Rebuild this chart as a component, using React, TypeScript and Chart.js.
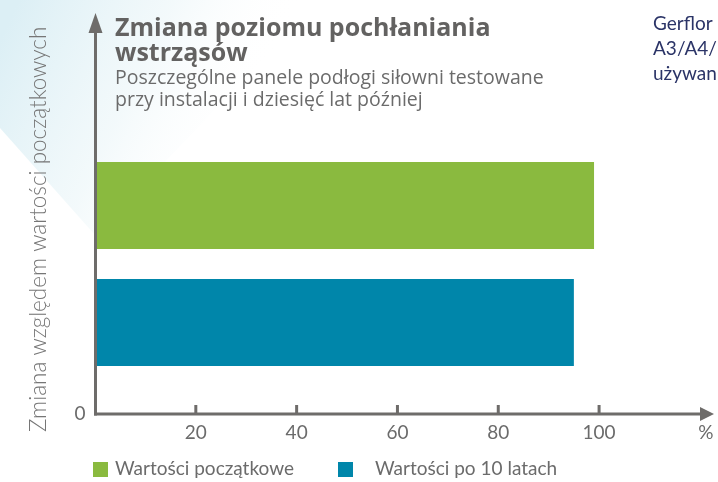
import React, { useEffect, useRef } from 'react';
import { Chart, registerables } from 'chart.js';

Chart.register(...registerables);

// ---- data ----
const categories = ['Wartości początkowe', 'Wartości po 10 latach'];
const initialValues: (number | null)[] = [99, null];
const after10Values: (number | null)[] = [null, 95];
const xTickValues = [20, 40, 60, 80, 100];
const unitLabel = '%';
const originLabel = '0';
const titleLines = ['Zmiana poziomu pochłaniania', 'wstrząsów'];
const subtitleLines = ['Poszczególne panele podłogi siłowni testowane', 'przy instalacji i dziesięć lat później'];
const yAxisTitle = 'Zmiana względem wartości początkowych';
const sideNoteLines = ['Gerflor', 'A3/A4/', 'używan'];

// ---- styles ----
const GREEN = '#8aba3f';
const BLUE = '#0086aa';
const AXIS = '#6e6c6a';
const TEXT = '#6b6b6b';
const TITLE = '#636261';
const NAVY = '#2b3467';
const FONT = 'Lato, "Open Sans", sans-serif';
const FONT2 = '"Open Sans", Lato, sans-serif';
const X_MAX = 122.6;
const UNIT_POS = 121.2;
const AXIS_GAP = 33;

const decorPlugin = {
  id: 'decor',
  beforeDraw(chart: any) {
    const { ctx, width, height } = chart;
    ctx.save();
    ctx.fillStyle = '#ffffff';
    ctx.fillRect(0, 0, width, height);
    const g = ctx.createLinearGradient(0, 40, 230, 150);
    g.addColorStop(0, 'rgba(220,239,245,1)');
    g.addColorStop(0.55, 'rgba(240,248,250,0.8)');
    g.addColorStop(1, 'rgba(255,255,255,0)');
    ctx.fillStyle = g;
    ctx.beginPath();
    ctx.moveTo(0, 0);
    ctx.lineTo(320, 0);
    ctx.lineTo(95, 235);
    ctx.lineTo(0, 128);
    ctx.closePath();
    ctx.fill();
    ctx.restore();
  },
  afterDatasetsDraw(chart: any) {
    const { ctx, chartArea } = chart;
    const xs = chart.scales.x;
    const x0 = xs.getPixelForValue(0) + 0.5;
    const axisY = chartArea.bottom + AXIS_GAP;
    const right = chartArea.right;
    ctx.save();
    // axes
    ctx.strokeStyle = AXIS;
    ctx.fillStyle = AXIS;
    ctx.lineWidth = 3;
    ctx.beginPath();
    ctx.moveTo(x0, axisY + 1.5);
    ctx.lineTo(x0, 28);
    ctx.stroke();
    ctx.beginPath();
    ctx.moveTo(x0 - 1.5, axisY);
    ctx.lineTo(right - 10, axisY);
    ctx.stroke();
    // arrows
    ctx.beginPath();
    ctx.moveTo(x0, 13);
    ctx.lineTo(x0 - 7, 33);
    ctx.lineTo(x0 + 7, 33);
    ctx.closePath();
    ctx.fill();
    ctx.beginPath();
    ctx.moveTo(right + 1, axisY);
    ctx.lineTo(right - 13, axisY - 7);
    ctx.lineTo(right - 13, axisY + 7);
    ctx.closePath();
    ctx.fill();
    // tick marks
    xTickValues.forEach((v) => {
      const px = xs.getPixelForValue(v);
      ctx.beginPath();
      ctx.moveTo(px, axisY);
      ctx.lineTo(px, axisY - 9);
      ctx.stroke();
    });
    // origin label
    ctx.fillStyle = TEXT;
    ctx.font = `400 19px ${FONT}`;
    ctx.textAlign = 'center';
    ctx.textBaseline = 'alphabetic';
    ctx.fillText(originLabel, 80, 420);

    // title
    ctx.textAlign = 'left';
    ctx.fillStyle = TITLE;
    ctx.font = `700 25px ${FONT2}`;
    ctx.fillText(titleLines[0], 115, 36);
    ctx.fillText(titleLines[1], 115, 61);
    ctx.fillStyle = TEXT;
    ctx.font = `400 19.5px ${FONT2}`;
    ctx.fillText(subtitleLines[0], 115, 84);
    ctx.fillText(subtitleLines[1], 115, 106);

    // side note
    ctx.fillStyle = NAVY;
    ctx.font = `400 19px ${FONT}`;
    sideNoteLines.forEach((t, i) => ctx.fillText(t, 653, 30 + i * 25));

    // y axis title
    ctx.save();
    ctx.translate(46, 432);
    ctx.rotate(-Math.PI / 2);
    ctx.fillStyle = '#767676';
    ctx.font = `300 22.5px ${FONT}`;
    ctx.textAlign = 'left';
    ctx.fillText(yAxisTitle, 0, 0);
    ctx.restore();

    // legend
    const ds = chart.data.datasets;
    const legendPos = [
      { box: 93, text: 115 },
      { box: 338, text: 375 },
    ];
    ds.forEach((d: any, i: number) => {
      ctx.fillStyle = d.backgroundColor;
      ctx.fillRect(legendPos[i].box, 462, 15, 15);
      ctx.fillStyle = TEXT;
      ctx.font = `400 19px ${FONT}`;
      ctx.fillText(d.label, legendPos[i].text, 475);
    });
    ctx.restore();
  },
};

export default function App() {
  const ref = useRef<HTMLCanvasElement>(null);
  useEffect(() => {
    if (!ref.current) return;
    const chart = new Chart(ref.current, {
      type: 'bar',
      data: {
        labels: categories,
        datasets: [
          { label: categories[0], data: initialValues, backgroundColor: GREEN, grouped: false } as any,
          { label: categories[1], data: after10Values, backgroundColor: BLUE, grouped: false } as any,
        ],
      },
      options: {
        indexAxis: 'y',
        animation: false,
        responsive: true,
        maintainAspectRatio: false,
        layout: { autoPadding: false, padding: { left: 95, right: 5, top: 147, bottom: 0 } },
        datasets: { bar: { categoryPercentage: 1, barPercentage: 0.744 } },
        plugins: { legend: { display: false }, tooltip: { enabled: false }, title: { display: false } },
        scales: {
          x: {
            type: 'linear',
            min: 0,
            max: X_MAX,
            grid: { display: false, drawTicks: false },
            border: { display: false },
            afterBuildTicks: (s: any) => {
              s.ticks = [...xTickValues.map((v) => ({ value: v })), { value: UNIT_POS }];
            },
            afterFit: (s: any) => {
              s.height = 101;
              s.paddingLeft = 0;
              s.paddingRight = 0;
            },
            ticks: {
              autoSkip: false,
              maxRotation: 0,
              padding: 40,
              color: TEXT,
              font: { family: FONT, size: 19 },
              callback: (v: any) => (v === UNIT_POS ? unitLabel : String(v)),
            },
          },
          y: { display: false },
        },
      },
      plugins: [decorPlugin],
    });
    return () => chart.destroy();
  }, []);
  return (
    <div style={{ position: 'fixed', left: 0, top: 0, width: 718, height: 482, background: '#fff' }}>
      <canvas ref={ref} />
    </div>
  );
}
